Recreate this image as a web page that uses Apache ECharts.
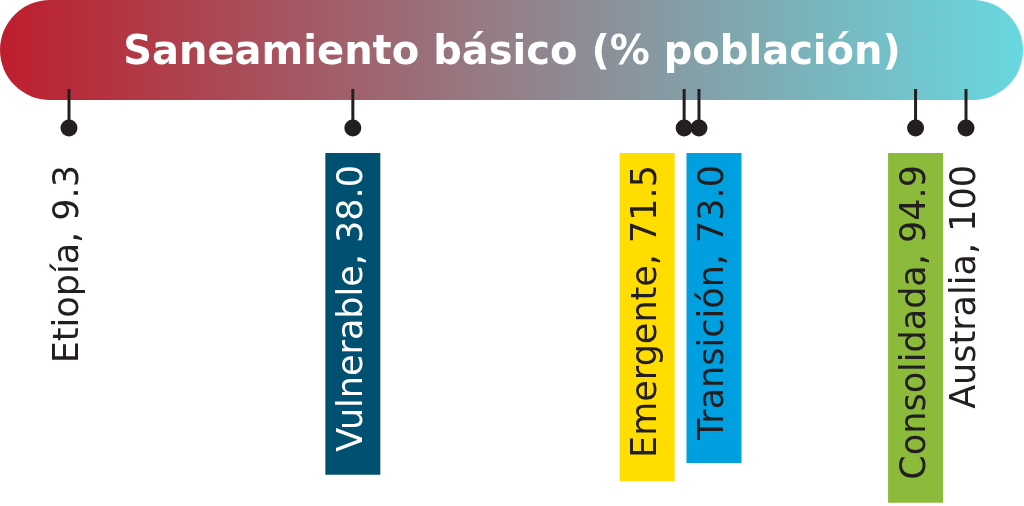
<!DOCTYPE html>
<html>
<head>
<meta charset="utf-8">
<script src="https://cdn.jsdelivr.net/npm/echarts@6/dist/echarts.min.js"></script>
<style>
html,body{margin:0;padding:0;background:#fff;}
#chart{width:1024px;height:506px;}
</style>
</head>
<body>
<div id="chart"></div>
<script>
// ---- data ----
var titleText = 'Saneamiento básico (% población)';
var names = ['Etiopía', 'Vulnerable', 'Emergente', 'Transición', 'Consolidada', 'Australia'];
var values = [9.3, 38.0, 71.5, 73.0, 94.9, 100];
var valueLabels = ['9.3', '38.0', '71.5', '73.0', '94.9', '100'];

// ---- styles ----
var boxColors = {
  'Vulnerable': '#005072',
  'Emergente': '#FFDD00',
  'Transición': '#009FDF',
  'Consolidada': '#8CBA3A'
};
var textColors = { 'Vulnerable': '#ffffff' };
// horizontal nudge (px) for labels that would collide at true scale
var labelShift = { 'Emergente': -37, 'Transición': 15 };
var ink = '#231F20';

var chart = echarts.init(document.getElementById('chart'), null, {renderer: 'canvas'});

var seriesData = names.map(function (n, i) { return [values[i], 1, i]; });

var option = {
  animation: false,
  backgroundColor: '#ffffff',
  graphic: [{
    type: 'rect',
    z: 0,
    shape: { x: 0, y: 0, width: 1023, height: 100, r: 50 },
    style: {
      fill: new echarts.graphic.LinearGradient(0, 0, 1, 0, [
        { offset: 0, color: '#BE1E2D' },
        { offset: 0.5, color: '#938089' },
        { offset: 1, color: '#68D8E0' }
      ])
    }
  }],
  title: {
    text: titleText,
    left: 'center',
    top: 24,
    z: 10,
    textStyle: {
      color: '#ffffff',
      fontFamily: 'DejaVu Sans',
      fontWeight: 'bold',
      fontSize: 40,
      lineHeight: 50
    }
  },
  grid: { left: 69, right: 58, top: 128, bottom: 300 },
  xAxis: {
    type: 'value', min: 9.3, max: 100,
    show: false
  },
  yAxis: {
    type: 'value', min: 0, max: 1,
    show: false
  },
  series: [{
    type: 'custom',
    data: seriesData,
    z: 5,
    renderItem: function (params, api) {
      var i = api.value(2);
      var p = api.coord([api.value(0), api.value(1)]);
      var name = names[i];
      var txt = name + ', ' + valueLabels[i];
      var bg = boxColors[name] || null;
      var shift = labelShift[name] || 0;
      return {
        type: 'group',
        children: [
          {
            type: 'line',
            shape: { x1: p[0], y1: p[1] - 39, x2: p[0], y2: p[1] },
            style: { stroke: ink, lineWidth: 3 }
          },
          {
            type: 'circle',
            shape: { cx: p[0], cy: p[1], r: 8.5 },
            style: { fill: ink }
          },
          {
            type: 'text',
            x: p[0] + shift,
            y: p[1] + 25,
            rotation: Math.PI / 2,
            style: {
              text: txt,
              fill: textColors[name] || ink,
              font: '35px "DejaVu Sans"',
              align: 'right',
              verticalAlign: 'middle',
              backgroundColor: bg,
              padding: bg ? [10, 12, 10, 23] : [0, 12, 0, 0]
            }
          }
        ]
      };
    }
  }]
};
chart.setOption(option);
</script>
</body>
</html>
